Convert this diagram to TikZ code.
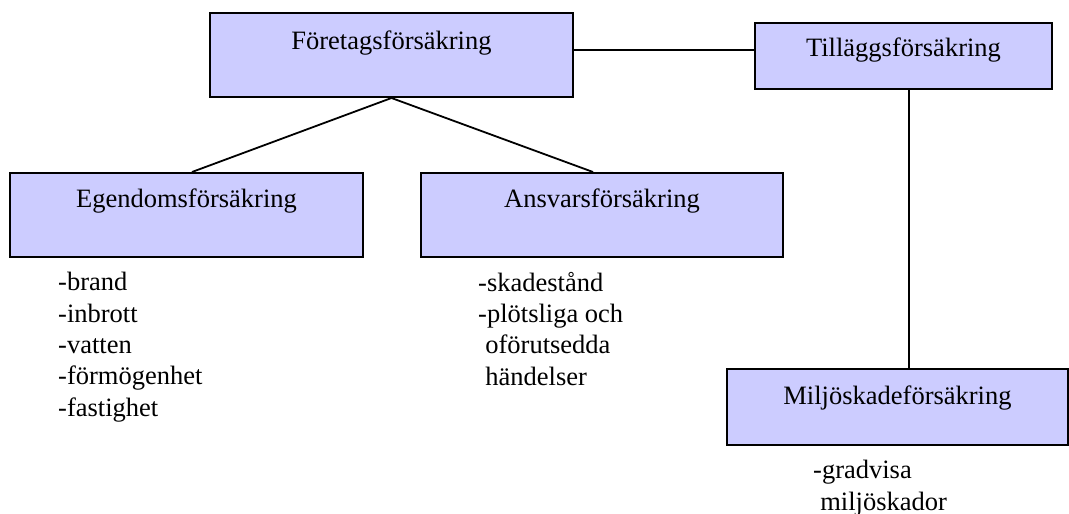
\documentclass[tikz,border=0pt]{standalone}
\usepackage{fontspec}
\setmainfont{Liberation Serif}
\begin{document}
\begin{tikzpicture}[x=1pt, y=-1pt,
  font=\fontsize{26.5}{31.3}\selectfont,
  box/.style={draw=black, line width=2pt, fill={rgb,255:red,204;green,204;blue,255},
    inner sep=0pt, anchor=base},
  link/.style={draw=black, line width=1.8pt},
  items/.style={align=left, inner sep=0pt, anchor=base west}]
\useasboundingbox (0,0) rectangle (1069,514);

% insurance boxes (anchored at the text baseline)
\node[box, minimum width=363pt, text height=36pt, text depth=48pt] (F) at (391.5,49) {Företagsförsäkring};
\node[box, minimum width=297pt, text height=33.5pt, text depth=32.5pt] (T) at (903.5,56.5) {Tilläggsförsäkring};
\node[box, minimum width=353pt, text height=34pt, text depth=50pt] (E) at (186.5,207) {Egendomsförsäkring};
\node[box, minimum width=362pt, text height=34pt, text depth=50pt] (A) at (602,207) {Ansvarsförsäkring};
\node[box, minimum width=341pt, text height=35pt, text depth=41pt] (M) at (897.5,404) {Miljöskadeförsäkring};

% connectors
\draw[link] (F.south) -- ([xshift=5.5pt]E.north);
\draw[link] (F.south) -- ([xshift=-9pt]A.north);
\draw[link] ([yshift=5pt]F.east) -- ([yshift=5pt]F.east -| T.west);
\draw[link] ([xshift=5.5pt]T.south) -- ([xshift=5.5pt]T.south |- M.north);

% covered risks (anchored at the baseline of the last line)
\node[items] (El) at (58,416) {-brand\\-inbrott\\-vatten\\-förmögenhet\\-fastighet};
\node[items] (Al) at (478,385) {-skadestånd\\-plötsliga och\\\hspace*{0.27em}oförutsedda\\\hspace*{0.27em}händelser};
\node[items] (Ml) at (813,510) {-gradvisa\\\hspace*{0.27em}miljöskador};
\end{tikzpicture}
\end{document}
